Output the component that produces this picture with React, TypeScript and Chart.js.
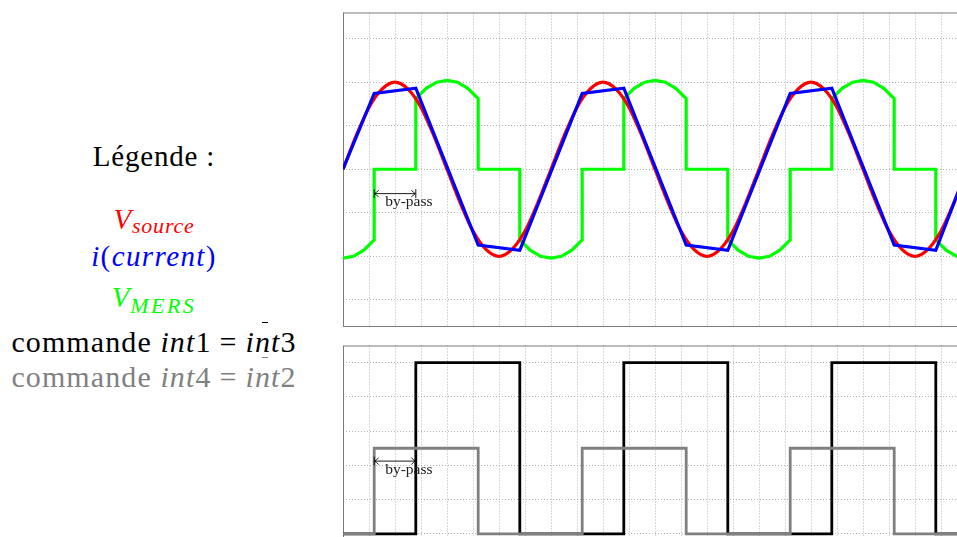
import React, { useEffect, useRef } from 'react';
import { Chart, registerables } from 'chart.js';

Chart.register(...registerables);

// ---------- data ----------
// time axis in grid units (one grid cell = 1), three periods of 8 units
const X_MIN = 0;
const X_MAX = 24;
const X_STEP = 1;

// V_source, sampled every SOURCE_STEP units
const SOURCE_STEP = 0.5;
const vSource = [
  0, 0.38, 0.71, 0.92, 1, 0.92, 0.71, 0.38, 0, -0.38, -0.71, -0.92, -1, -0.92, -0.71, -0.38,
  0, 0.38, 0.71, 0.92, 1, 0.92, 0.71, 0.38, 0, -0.38, -0.71, -0.92, -1, -0.92, -0.71, -0.38,
  0, 0.38, 0.71, 0.92, 1, 0.92, 0.71, 0.38, 0, -0.38, -0.71, -0.92, -1, -0.92, -0.71, -0.38,
  0,
];

// i(current)
const currentT = [0, 1.2, 2.8, 5.2, 6.8, 9.2, 10.8, 13.2, 14.8, 17.2, 18.8, 21.2, 22.8, 24];
const currentI = [0, 0.87, 0.93, -0.87, -0.93, 0.87, 0.93, -0.87, -0.93, 0.87, 0.93, -0.87, -0.93, 0];

// V_MERS
const mersT = [
  0, 0.4, 0.8, 1.2, 1.2, 2.8, 2.8, 3.2, 3.6, 4, 4.4, 4.8, 5.2, 5.2, 6.8,
  6.8, 7.2, 7.6, 8, 8.4, 8.8, 9.2, 9.2, 10.8, 10.8, 11.2, 11.6, 12, 12.4, 12.8, 13.2, 13.2, 14.8,
  14.8, 15.2, 15.6, 16, 16.4, 16.8, 17.2, 17.2, 18.8, 18.8, 19.2, 19.6, 20, 20.4, 20.8, 21.2, 21.2, 22.8,
  22.8, 23.2, 23.6, 24,
];
const mersV = [
  -1.02, -1.0, -0.93, -0.81, 0, 0, 0.81, 0.93, 1.0, 1.02, 1.0, 0.93, 0.81, 0, 0,
  -0.81, -0.93, -1.0, -1.02, -1.0, -0.93, -0.81, 0, 0, 0.81, 0.93, 1.0, 1.02, 1.0, 0.93, 0.81, 0, 0,
  -0.81, -0.93, -1.0, -1.02, -1.0, -0.93, -0.81, 0, 0, 0.81, 0.93, 1.0, 1.02, 1.0, 0.93, 0.81, 0, 0,
  -0.81, -0.93, -1.0, -1.02,
];

// commands: switching times and level reached at that time
const int1T = [0, 2.8, 6.8, 10.8, 14.8, 18.8, 22.8, 24];
const int1V = [0, 1, 0, 1, 0, 1, 0, 0];
const int4T = [0, 1.2, 5.2, 9.2, 13.2, 17.2, 21.2, 24];
const int4V = [0, 0.5, 0, 0.5, 0, 0.5, 0, 0];

// axes
const topYMin = -1.8;
const topYMax = 1.8;
const topYTicks = [-1.5, -1, -0.5, 0, 0.5, 1, 1.5];
const bottomYMin = -0.1;
const bottomYMax = 1.1;
const bottomYTicks = [0, 0.2, 0.4, 0.6, 0.8, 1];

// by-pass annotation
const bypassStart = 1.2;
const bypassEnd = 2.8;
const bypassLabel = 'by-pass';
const topBypassY = -0.28;
const bottomBypassY = 0.425;

// ---------- styles ----------
const RED = '#ff0000';
const BLUE = '#0000ff';
const GREEN = '#00ff00';
const BLACK = '#000000';
const GREY = '#808080';
const GRID = '#a0a0a0';
const FRAME = '#7a7a7a';
const SERIF = '"Liberation Serif", "Times New Roman", serif';

const zip = (t: number[], v: number[]) => t.map((x, i) => ({ x, y: v[i] }));

const framePlugin = {
  id: 'frame',
  beforeDatasetsDraw(chart: any) {
    const { ctx, chartArea: a } = chart;
    ctx.save();
    ctx.strokeStyle = FRAME;
    ctx.lineWidth = 1;
    ctx.strokeRect(a.left + 0.5, a.top + 0.5, a.right - a.left, a.bottom - a.top);
    ctx.restore();
  },
};

const bypassPlugin = {
  id: 'bypass',
  afterDatasetsDraw(chart: any, _args: any, opts: any) {
    const { ctx } = chart;
    const xs = chart.scales.x;
    const ys = chart.scales.y;
    const x1 = xs.getPixelForValue(opts.start);
    const x2 = xs.getPixelForValue(opts.end);
    const y = ys.getPixelForValue(opts.y);
    ctx.save();
    ctx.strokeStyle = '#000';
    ctx.lineWidth = 0.9;
    ctx.beginPath();
    ctx.moveTo(x1, y - 4.5);
    ctx.lineTo(x1, y + 4.5);
    ctx.moveTo(x2, y - 4.5);
    ctx.lineTo(x2, y + 4.5);
    ctx.moveTo(x1 + 0.5, y);
    ctx.lineTo(x2 - 0.5, y);
    // left head
    ctx.moveTo(x1 + 4.5, y - 3.5);
    ctx.quadraticCurveTo(x1 + 2, y - 0.8, x1 + 0.6, y);
    ctx.quadraticCurveTo(x1 + 2, y + 0.8, x1 + 4.5, y + 3.5);
    // right head
    ctx.moveTo(x2 - 4.5, y - 3.5);
    ctx.quadraticCurveTo(x2 - 2, y - 0.8, x2 - 0.6, y);
    ctx.quadraticCurveTo(x2 - 2, y + 0.8, x2 - 4.5, y + 3.5);
    ctx.stroke();
    ctx.fillStyle = '#222';
    ctx.font = '15.5px ' + SERIF;
    ctx.textAlign = 'left';
    ctx.textBaseline = 'alphabetic';
    ctx.fillText(opts.label, x1 + 11, y + 12.5);
    ctx.restore();
  },
};

function makeScales(yMin: number, yMax: number, yTicks: number[]) {
  const grid = { color: GRID, lineWidth: 0.8, drawTicks: false };
  const border = { display: false, dash: [1, 2] };
  return {
    x: {
      type: 'linear',
      min: X_MIN,
      max: X_MAX,
      ticks: { display: false, stepSize: X_STEP },
      grid,
      border,
    },
    y: {
      type: 'linear',
      min: yMin,
      max: yMax,
      ticks: { display: false },
      afterBuildTicks: (scale: any) => {
        scale.ticks = yTicks.map((v) => ({ value: v }));
      },
      grid,
      border,
    },
  };
}

function useChart(ref: React.RefObject<HTMLCanvasElement>, build: () => any) {
  useEffect(() => {
    if (!ref.current) return;
    const chart = new Chart(ref.current, build());
    return () => chart.destroy();
  }, []);
}

const lineStyle = {
  pointRadius: 0,
  borderWidth: 3.2,
  fill: false,
  borderJoinStyle: 'miter' as const,
  borderCapStyle: 'butt' as const,
};

function TopChart() {
  const ref = useRef<HTMLCanvasElement>(null);
  useChart(ref, () => ({
    type: 'line',
    data: {
      datasets: [
        { label: 'i(current)', data: zip(currentT, currentI), borderColor: BLUE, ...lineStyle, tension: 0 },
        {
          label: 'V_source',
          data: vSource.map((v, i) => ({ x: i * SOURCE_STEP, y: v })),
          borderColor: RED,
          ...lineStyle,
          cubicInterpolationMode: 'monotone',
        },
        { label: 'V_MERS', data: zip(mersT, mersV), borderColor: GREEN, ...lineStyle, tension: 0 },
      ],
    },
    options: {
      animation: false,
      responsive: false,
      events: [],
      layout: { padding: { left: 10, right: 10, top: 9.5, bottom: 10 } },
      plugins: {
        legend: { display: false },
        tooltip: { enabled: false },
        bypass: { start: bypassStart, end: bypassEnd, y: topBypassY, label: bypassLabel },
      },
      scales: makeScales(topYMin, topYMax, topYTicks),
    },
    plugins: [framePlugin, bypassPlugin],
  }));
  return (
    <canvas
      ref={ref}
      width={644}
      height={333}
      style={{ position: 'absolute', left: 333, top: 3, width: 644, height: 333 }}
    />
  );
}

function BottomChart() {
  const ref = useRef<HTMLCanvasElement>(null);
  useChart(ref, () => ({
    type: 'line',
    data: {
      datasets: [
        { label: 'commande int4', data: zip(int4T, int4V), borderColor: GREY, ...lineStyle, borderWidth: 2.8, stepped: 'before' },
        { label: 'commande int1', data: zip(int1T, int1V), borderColor: BLACK, ...lineStyle, borderWidth: 2.8, stepped: 'before' },
      ],
    },
    options: {
      animation: false,
      responsive: false,
      events: [],
      layout: { padding: { left: 10, right: 10, top: 9.5, bottom: 10 } },
      plugins: {
        legend: { display: false },
        tooltip: { enabled: false },
        bypass: { start: bypassStart, end: bypassEnd, y: bottomBypassY, label: bypassLabel },
      },
      scales: makeScales(bottomYMin, bottomYMax, bottomYTicks),
    },
    plugins: [framePlugin, bypassPlugin],
  }));
  return (
    <canvas
      ref={ref}
      width={644}
      height={225}
      style={{ position: 'absolute', left: 333, top: 336, width: 644, height: 225 }}
    />
  );
}

const lineBase: React.CSSProperties = {
  position: 'absolute',
  left: 0,
  width: 308,
  textAlign: 'center',
  fontFamily: SERIF,
  fontSize: 29,
  lineHeight: '29px',
  whiteSpace: 'nowrap',
  letterSpacing: 0.8,
};
const it: React.CSSProperties = { fontStyle: 'italic' };
const sub = (top: number, extra: React.CSSProperties = {}): React.CSSProperties => ({
  fontStyle: 'italic',
  fontSize: 22,
  position: 'relative',
  top,
  ...extra,
});

function Bar() {
  return (
    <span
      style={{
        position: 'absolute',
        left: '45%',
        width: 6,
        top: -3,
        height: 1.3,
        background: 'currentColor',
      }}
    />
  );
}

function Command({ a, b, color, top }: { a: string; b: string; color: string; top: number }) {
  return (
    <div style={{ ...lineBase, top, color, fontSize: 30, lineHeight: '30px', letterSpacing: 1.1 }}>
      commande <span style={it}>int</span>
      {a}
      <span style={{ margin: '0 8px' }}>=</span>
      <span style={it}>i</span>
      <span style={{ ...it, position: 'relative' }}>
        n
        <Bar />
      </span>
      <span style={it}>t</span>
      {b}
    </div>
  );
}

function Legend() {
  return (
    <>
      <div style={{ ...lineBase, top: 142.4, color: '#000' }}>Légende&nbsp;:</div>
      <div style={{ ...lineBase, top: 205, color: RED }}>
        <span style={it}>V</span>
        <span style={sub(4)}>source</span>
      </div>
      <div style={{ ...lineBase, top: 242.4, color: BLUE, letterSpacing: 1.4 }}>
        <span style={it}>i</span>(<span style={it}>current</span>)
      </div>
      <div style={{ ...lineBase, top: 283.4, color: GREEN }}>
        <span style={it}>V</span>
        <span style={sub(6, { letterSpacing: 2.5 })}>MERS</span>
      </div>
      <Command a="1" b="3" color="#000" top={327.2} />
      <Command a="4" b="2" color={GREY} top={361.6} />
    </>
  );
}

export default function App() {
  return (
    <div
      style={{
        position: 'absolute',
        left: 0,
        top: 0,
        width: 957,
        height: 537,
        overflow: 'hidden',
        background: '#fff',
      }}
    >
      <Legend />
      <TopChart />
      <BottomChart />
    </div>
  );
}
